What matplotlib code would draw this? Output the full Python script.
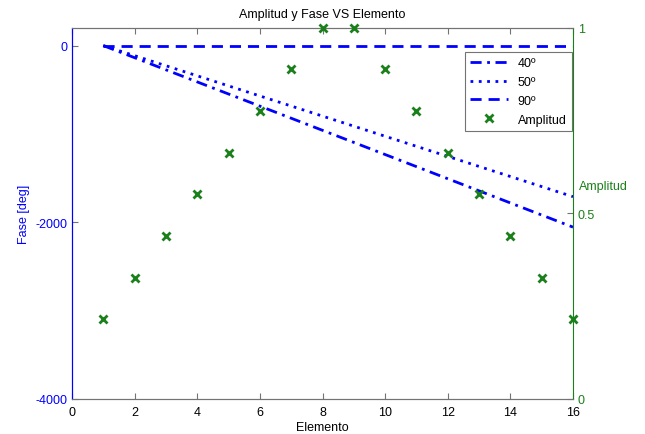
import numpy as np
import matplotlib
matplotlib.use('Agg')
import matplotlib.pyplot as plt

plt.rcParams['font.family'] = ['Liberation Sans', 'DejaVu Sans']
plt.rcParams['axes.unicode_minus'] = False

# Datos
elementos = [1, 2, 3, 4, 5, 6, 7, 8, 9, 10, 11, 12, 13, 14, 15, 16]
fase_40 = [0, -137, -274, -411, -548, -685, -822, -959, -1096, -1233,
           -1370, -1507, -1644, -1781, -1918, -2055]
fase_50 = [0, -114, -228, -342, -456, -570, -684, -798, -912, -1026,
           -1140, -1254, -1368, -1482, -1596, -1710]
fase_90 = [0, 0, 0, 0, 0, 0, 0, 0, 0, 0, 0, 0, 0, 0, 0, 0]
amplitud = [0.215, 0.326, 0.44, 0.553, 0.664, 0.777, 0.888, 1.0,
            1.0, 0.888, 0.777, 0.664, 0.553, 0.44, 0.326, 0.215]

azul = (0, 0, 1)
verde = (0.1, 0.5, 0.1)
gris = (0.45, 0.45, 0.45)

fig = plt.figure(figsize=(6.45, 4.35), dpi=100)
ax = fig.add_axes([0.1116, 0.0805, 0.7768, 0.8530])
ax2 = ax.twinx()

l40, = ax.plot(elementos, fase_40, color=azul, lw=2, linestyle=(0, (4, 2, 1, 2)))
l50, = ax.plot(elementos, fase_50, color=azul, lw=2, linestyle=(0, (1, 2)))
l90, = ax.plot(elementos, fase_90, color=azul, lw=2, linestyle=(0, (4, 2.5)))
pa, = ax2.plot(elementos, amplitud, 'x', color=verde, ms=6, mew=2,
               linestyle='none', clip_on=False, zorder=5)

ax.set_xlim(0, 16)
ax.set_ylim(-4000, 200)
ax2.set_ylim(0, 1)
ax.set_xticks(range(0, 17, 2))
ax.set_yticks([-4000, -2000, 0])
ax2.set_yticks([0, 0.5, 1])
ax2.set_yticklabels(['0', '0.5', '1'])

fs = 9
ax.tick_params(axis='x', direction='in', top=True, labelsize=fs, colors='black',
               color=gris, length=4, pad=5)
ax.tick_params(axis='y', direction='in', labelsize=fs, colors=azul, color=gris, length=4)
ax2.tick_params(axis='y', direction='in', labelsize=fs, colors=verde, color=gris, length=4)

for a in (ax, ax2):
    a.spines['top'].set_color(gris)
    a.spines['bottom'].set_color(gris)
ax.spines['left'].set_color(azul)
ax2.spines['left'].set_color(azul)
ax2.spines['right'].set_color(verde)
ax.spines['right'].set_visible(False)

ax.set_xlabel('Elemento', fontsize=fs, labelpad=2)
ax.set_ylabel('Fase [deg]', fontsize=fs, color=azul, labelpad=4)
ax2.text(1.012, 0.575, 'Amplitud', transform=ax.transAxes, fontsize=fs,
         color=verde, ha='left', va='center')
ax.set_title('Amplitud y Fase VS Elemento', fontsize=fs, pad=8)

leg = ax2.legend([l40, l50, l90, pa], ['40º', '50º', '90º', 'Amplitud'],
                 loc='upper right', bbox_to_anchor=(0.997, 0.935),
                 borderaxespad=0, fontsize=fs, frameon=True, fancybox=False,
                 framealpha=1, edgecolor=gris, handlelength=3, borderpad=0.4,
                 labelspacing=0.55)
leg.get_frame().set_linewidth(0.8)

fig.savefig('out.png', dpi=100)
